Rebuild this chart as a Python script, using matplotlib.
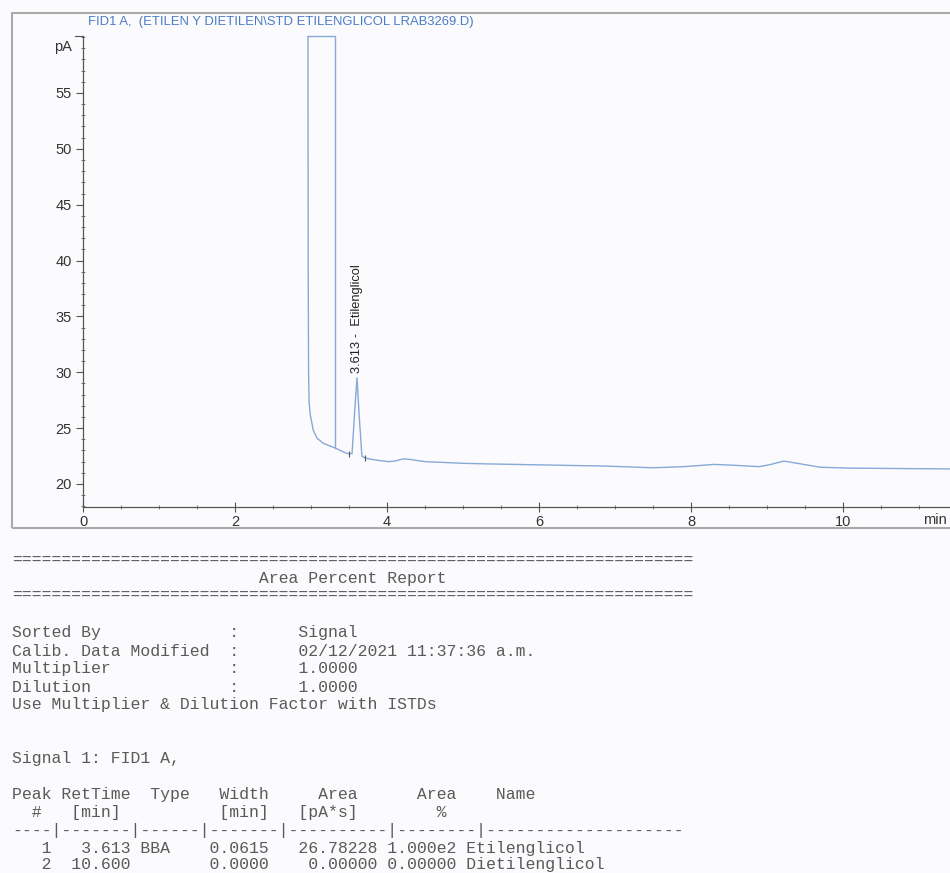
import matplotlib
matplotlib.use("Agg")
import matplotlib.pyplot as plt
from matplotlib.ticker import MultipleLocator
from matplotlib.patches import Rectangle
from matplotlib.transforms import blended_transform_factory

# ---------------- data ----------------
time_min = [2.96, 2.963, 2.968, 2.975, 2.99, 3.03, 3.08, 3.16, 3.23, 3.29, 3.32,
            3.40, 3.48, 3.54, 3.575, 3.605, 3.635, 3.67, 3.71, 3.80, 3.90,
            4.02, 4.10, 4.22, 4.30, 4.50, 5.00, 5.30, 6.10, 6.90, 7.50,
            7.90, 8.30, 8.50, 8.90, 9.05, 9.22, 9.40, 9.70, 10.10, 10.80, 11.42]
signal_pA = [60.1, 40.0, 30.0, 27.3, 26.2, 24.8, 24.1, 23.65, 23.45, 23.3, 23.22,
             22.95, 22.72, 22.72, 26.5, 29.5, 26.0, 22.5, 22.33, 22.2, 22.1,
             22.0, 22.05, 22.25, 22.2, 22.0, 21.85, 21.8, 21.7, 21.6, 21.45,
             21.55, 21.75, 21.7, 21.55, 21.75, 22.05, 21.85, 21.5, 21.42, 21.38, 21.35]

# off-scale solvent peak outline
solvent_t = [2.96, 3.32, 3.32]
solvent_v = [60.1, 60.1, 23.22]

# integration markers
marker_t = [3.50, 3.71]
marker_v = [22.72, 22.33]

peak_rt = 3.613
peak_apex = 29.5
peak_label = "3.613 -  Etilenglicol"

x_major = [0, 2, 4, 6, 8, 10]
x_tick_labels = ["0", "2", "4", "6", "8", "10"]
y_major = [20, 25, 30, 35, 40, 45, 50, 55]
y_tick_labels = ["20", "25", "30", "35", "40", "45", "50", "55"]

title = "FID1 A,  (ETILEN Y DIETILEN\\STD ETILENGLICOL LRAB3269.D)"

sep = "=" * 69
report_lines = [
    (560, sep),
    (578, " " * 25 + "Area Percent Report"),
    (595, sep),
    (633, "Sorted By" + " " * 13 + ":      Signal"),
    (651, "Calib. Data Modified  :      02/12/2021 11:37:36 a.m."),
    (669, "Multiplier" + " " * 12 + ":      1.0000"),
    (687, "Dilution" + " " * 14 + ":      1.0000"),
    (705, "Use Multiplier & Dilution Factor with ISTDs"),
    (759, "Signal 1: FID1 A,"),
    (795, "Peak RetTime  Type   Width     Area      Area    Name"),
    (813, "  #   [min]          [min]   [pA*s]        %"),
    (831, "----|-------|------|-------|----------|--------|--------------------"),
    (848, "   1   3.613 BBA    0.0615   26.78228 1.000e2 Etilenglicol"),
    (865, "   2  10.600        0.0000    0.00000 0.00000 Dietilenglicol"),
]

# ---------------- figure ----------------
W, H = 950, 873
fig = plt.figure(figsize=(W / 100, H / 100), dpi=100)
bg = "#fbfbfd"
fig.patch.set_facecolor(bg)

def fy(ypx):
    return 1 - ypx / H

ax_left, ax_right = 83, 950
ax_top, ax_bot = 36, 507
ax = fig.add_axes([ax_left / W, fy(ax_bot), (ax_right - ax_left) / W, (ax_bot - ax_top) / H])
ax.set_facecolor(bg)
ax.set_xlim(0, (ax_right - ax_left) / 76.0)
ax.set_ylim(17.94, 60.1)

trace_col = "#86a9d6"
ax.plot(time_min, signal_pA, color=trace_col, lw=1.0)
ax.plot(solvent_t, solvent_v, color=trace_col, lw=1.0, clip_on=False)
ax.plot(marker_t, marker_v, linestyle="none", marker="|", markersize=5,
        color="#555555", markeredgewidth=0.8)

sans = ["Liberation Sans", "DejaVu Sans"]
ax.text(peak_rt - 0.01, peak_apex + 0.4, peak_label, rotation=90, ha="center",
        va="bottom", fontsize=9.3, color="#222222", family=sans)

for s in ("top", "right"):
    ax.spines[s].set_visible(False)
for s in ("left", "bottom"):
    ax.spines[s].set_color("#555555")
    ax.spines[s].set_linewidth(0.9)

tick_fs = 10.5
ax.set_xticks(x_major)
ax.set_xticklabels(x_tick_labels, fontsize=tick_fs, color="#333333", family=sans)
ax.set_yticks(y_major)
ax.set_yticklabels(y_tick_labels, fontsize=tick_fs, color="#333333", family=sans)
ax.xaxis.set_minor_locator(MultipleLocator(0.5))
ax.yaxis.set_minor_locator(MultipleLocator(1))
ax.tick_params(axis="x", which="major", direction="inout", length=7, width=0.8,
               color="#555555", pad=2)
ax.tick_params(axis="x", which="minor", direction="inout", length=3, width=0.7,
               color="#777777")
ax.tick_params(axis="y", which="major", direction="out", length=5, width=0.8,
               color="#555555", pad=3)
ax.tick_params(axis="y", which="minor", direction="inout", length=3, width=0.7,
               color="#777777")

# top-of-axis tick and unit label
ax.plot([-0.1, 0], [60.1, 60.1], color="#555555", lw=0.8, clip_on=False)
trans_y = blended_transform_factory(ax.transAxes, ax.transData)
ax.annotate("pA", xy=(0, 59.1), xycoords=trans_y, xytext=(-11, 0),
            textcoords="offset pixels", ha="right", va="center",
            fontsize=tick_fs, color="#333333", family=sans)
ax.annotate("min", xy=(1, 0), xycoords="axes fraction", xytext=(-3, -13),
            textcoords="offset pixels", ha="right", va="center",
            fontsize=tick_fs, color="#333333", family=sans)

# outer frame
fig.add_artist(Rectangle((12 / W, fy(528)), 1.2, (528 - 13) / H, transform=fig.transFigure,
                         fill=False, edgecolor="#aaaaaa", lw=1.5))

fig.text(88 / W, fy(22), title, ha="left", va="center", fontsize=9.4,
         color="#4a7cc4", family=sans)

for ypx, line in report_lines:
    fig.text(12 / W, fy(ypx), line, ha="left", va="center", fontsize=11.85,
             color="#5a5a5a", family=["Liberation Mono", "DejaVu Sans Mono"])

fig.savefig("out.png", dpi=100, facecolor=bg)
